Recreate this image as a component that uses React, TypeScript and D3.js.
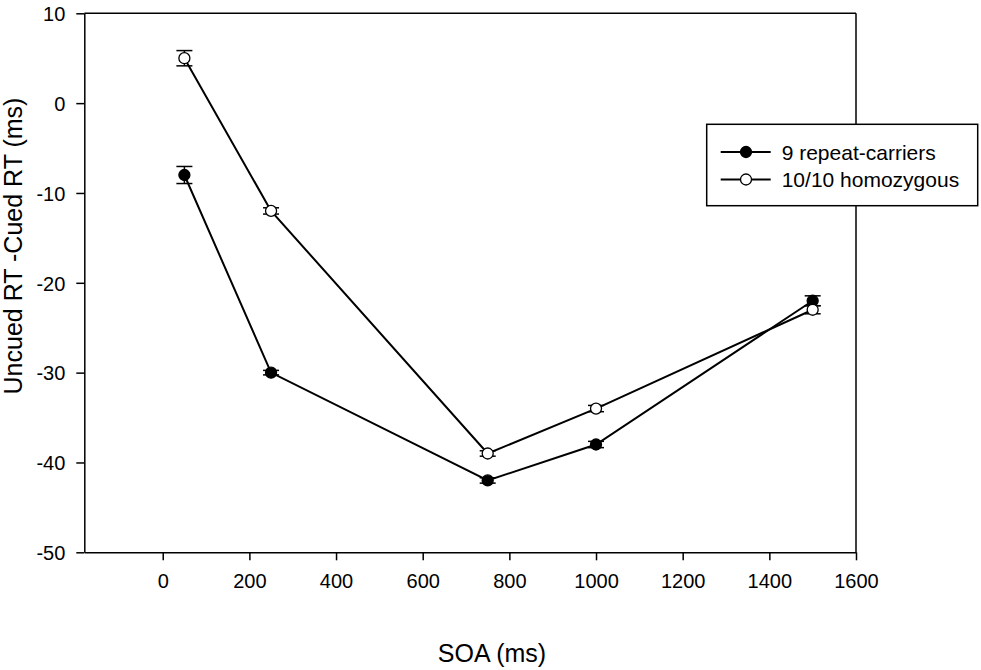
import { useEffect, useRef } from "react"
import * as d3 from "d3"

// SOA values (ms)
const soa = [50, 250, 750, 1000, 1500]

// Uncued RT - Cued RT (ms), with error bar half-lengths
const carriers9 = [-8, -30, -42, -38, -22]
const carriers9Err = [0.95, 0.25, 0.3, 0.35, 0.55]
const homo1010 = [5, -12, -39, -34, -23]
const homo1010Err = [0.85, 0.35, 0.3, 0.35, 0.45]

const xTicks = [0, 200, 400, 600, 800, 1000, 1200, 1400, 1600]
const yTicks = [-50, -40, -30, -20, -10, 0, 10]

const seriesNames = ["9 repeat-carriers", "10/10 homozygous"]

const W = 981
const H = 670
const FONT = "'Liberation Sans', Arial, sans-serif"

export default function App() {
  const svgRef = useRef<SVGSVGElement>(null)

  useEffect(() => {
    if (!svgRef.current) return
    const svg = d3.select(svgRef.current)
    svg.selectAll("*").remove()

    const x = d3.scaleLinear().domain([-181, 1600]).range([84.3, 856])
    const y = d3.scaleLinear().domain([-50, 10]).range([552.3, 13.3])

    // frame (top + right)
    svg.append("line")
      .attr("x1", x.range()[0]).attr("x2", x.range()[1])
      .attr("y1", y(10)).attr("y2", y(10))
      .attr("stroke", "#000").attr("stroke-width", 1.5)
    svg.append("line")
      .attr("x1", x(1600)).attr("x2", x(1600))
      .attr("y1", y(10)).attr("y2", y(-50))
      .attr("stroke", "#000").attr("stroke-width", 1.5)

    // axes (plain hyphen for negatives, like the original)
    const fmt = (d: d3.NumberValue) => String(d)
    const yAxis = svg.append("g")
      .attr("transform", `translate(${x.range()[0]},0)`)
      .call(d3.axisLeft(y).tickValues(yTicks).tickSize(8).tickSizeOuter(0).tickPadding(11).tickFormat(fmt))
    const xAxis = svg.append("g")
      .attr("transform", `translate(0,${y(-50)})`)
      .call(d3.axisBottom(x).tickValues(xTicks).tickSize(8).tickSizeOuter(0).tickPadding(14).tickFormat(fmt))

    ;[xAxis, yAxis].forEach(a => {
      a.selectAll("path").attr("stroke", "#000").attr("stroke-width", 1.5)
      a.selectAll("line").attr("stroke", "#000").attr("stroke-width", 1.5)
      a.selectAll("text")
        .attr("fill", "#000")
        .style("font-family", FONT)
        .style("font-size", "20px")
    })
    yAxis.selectAll("text").attr("dy", "0.36em")

    // axis titles
    svg.append("text")
      .attr("x", 492)
      .attr("y", 662)
      .attr("text-anchor", "middle")
      .style("font-family", FONT)
      .style("font-size", "25px")
      .text("SOA (ms)")

    svg.append("text")
      .attr("transform", "translate(22,246) rotate(-90)")
      .attr("text-anchor", "middle")
      .style("font-family", FONT)
      .style("font-size", "25px")
      .text("Uncued RT -Cued RT (ms)")

    const line = d3.line<[number, number]>()
      .x(d => x(d[0]))
      .y(d => y(d[1]))

    const series = [
      { values: carriers9, errs: carriers9Err, fill: "#000" },
      { values: homo1010, errs: homo1010Err, fill: "#fff" },
    ]

    series.forEach(s => {
      const pts = soa.map((v, i) => [v, s.values[i]] as [number, number])
      svg.append("path")
        .attr("d", line(pts))
        .attr("fill", "none")
        .attr("stroke", "#000")
        .attr("stroke-width", 2)

      const g = svg.append("g")
      soa.forEach((v, i) => {
        const cx = x(v)
        const top = y(s.values[i] + s.errs[i])
        const bot = y(s.values[i] - s.errs[i])
        g.append("line")
          .attr("x1", cx).attr("x2", cx).attr("y1", top).attr("y2", bot)
          .attr("stroke", "#000").attr("stroke-width", 1.5)
        ;[top, bot].forEach(yy => {
          g.append("line")
            .attr("x1", cx - 8).attr("x2", cx + 8).attr("y1", yy).attr("y2", yy)
            .attr("stroke", "#000").attr("stroke-width", 1.5)
        })
        g.append("circle")
          .attr("cx", cx).attr("cy", y(s.values[i]))
          .attr("r", 5.5)
          .attr("fill", s.fill)
          .attr("stroke", "#000")
          .attr("stroke-width", 1.3)
      })
    })

    // legend
    const legend = svg.append("g")
    legend.append("rect")
      .attr("x", 706.7).attr("y", 124.3)
      .attr("width", 271).attr("height", 81.4)
      .attr("fill", "#fff")
      .attr("stroke", "#000")
      .attr("stroke-width", 1.5)

    seriesNames.forEach((name, i) => {
      const ly = 152 + i * 27.5
      const item = legend.append("g")
      item.append("line")
        .attr("x1", 720.7).attr("x2", 770.7).attr("y1", ly).attr("y2", ly)
        .attr("stroke", "#000").attr("stroke-width", 2)
      item.append("circle")
        .attr("cx", 746).attr("cy", ly).attr("r", 5.5)
        .attr("fill", series[i].fill)
        .attr("stroke", "#000").attr("stroke-width", 1.3)
      item.append("text")
        .attr("x", 781.7).attr("y", ly)
        .attr("dy", "0.36em")
        .style("font-family", FONT)
        .style("font-size", "21px")
        .text(name)
    })
  }, [])

  return (
    <div style={{ position: "fixed", left: 0, top: 0, width: W, height: H, background: "#fff" }}>
      <svg ref={svgRef} width={W} height={H} style={{ display: "block" }} />
    </div>
  )
}
